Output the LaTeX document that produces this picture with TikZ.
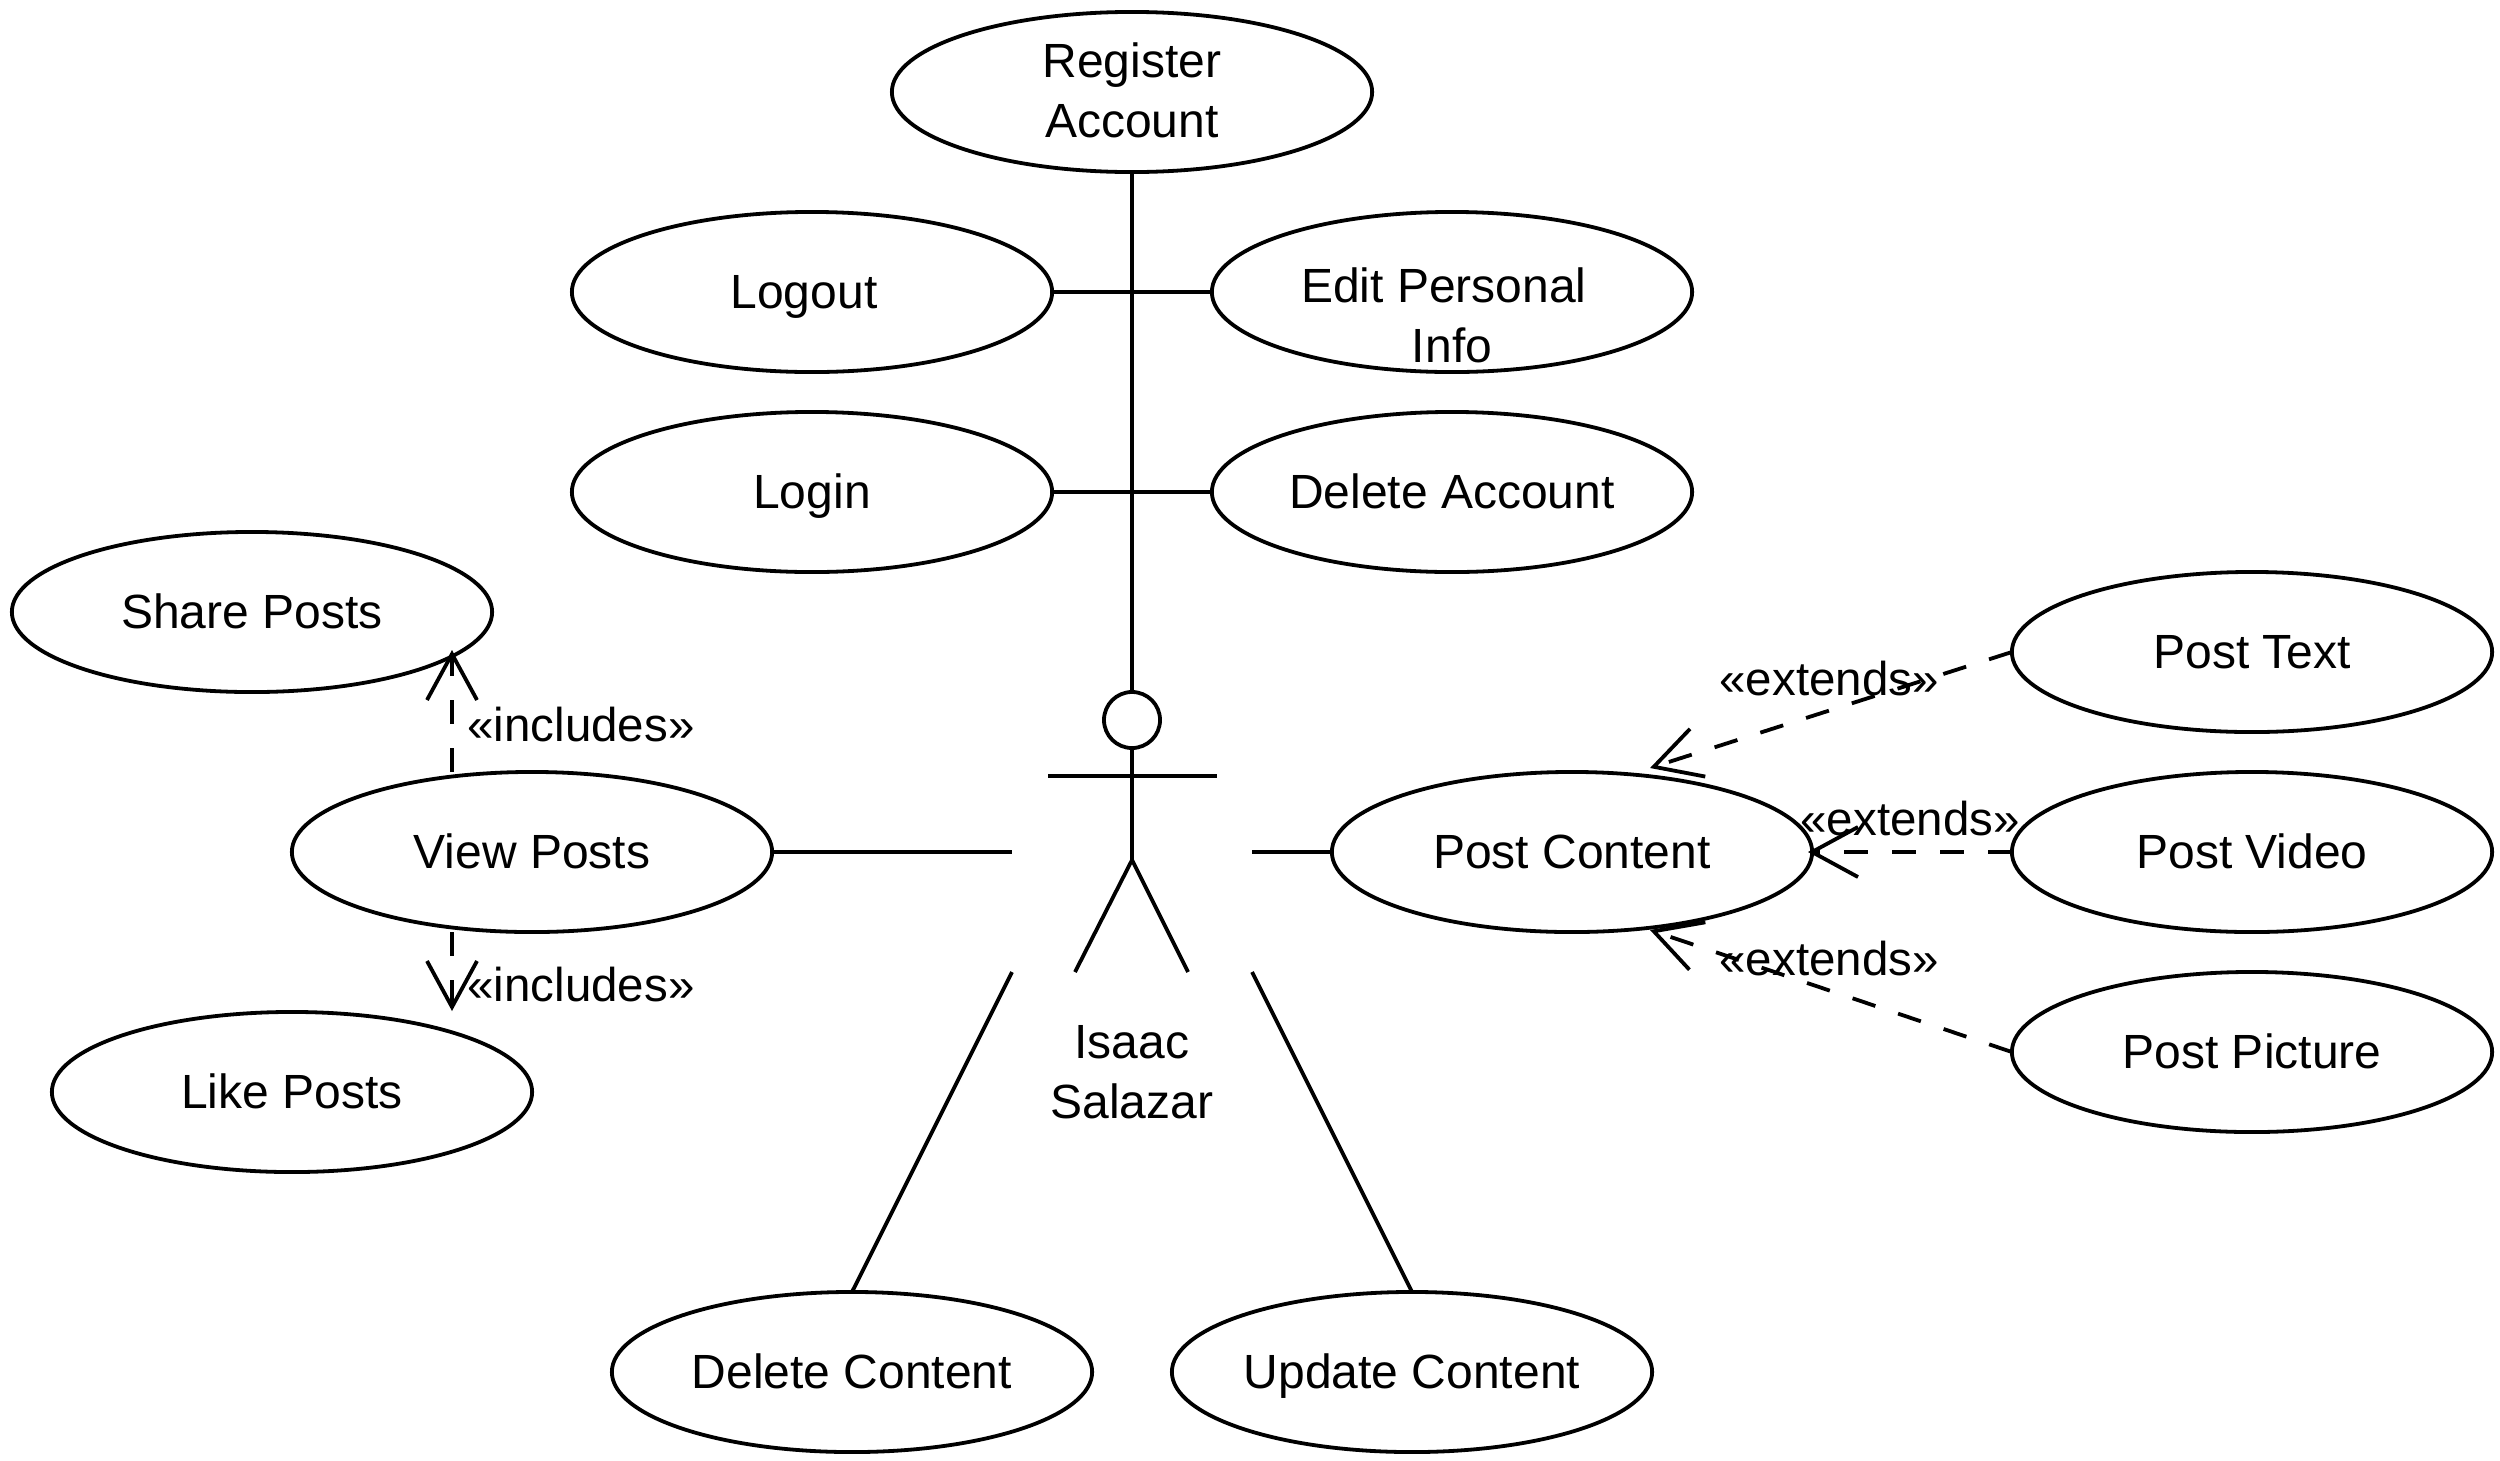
\documentclass[tikz,border=0pt]{standalone}
\usepackage{fontspec}
\setmainfont{Liberation Sans}
\usetikzlibrary{arrows.meta,shapes.geometric}
\tikzset{
  usecase/.style={draw, ellipse, minimum width=4.8cm, minimum height=1.6cm, inner sep=0pt, outer sep=0pt},
  usetext/.style={align=center, inner sep=0pt, text height=.42cm, text depth=.1cm},
  twolines/.style={align=center, inner sep=0pt},
  stereo/.style={anchor=base, inner sep=0pt, font=\fontsize{13.5}{17}\selectfont},
  dep/.style={->, dash pattern=on .24cm off .24cm}
}
\begin{document}
\begin{tikzpicture}[x=.01cm, y=-.01cm, line width=.038cm,
    >={Straight Barb[length=.46cm, width=.5cm]},
    font=\fontsize{13.65}{17}\selectfont]
    \useasboundingbox (0,0) rectangle (2500,1460);

    % Use cases
    \node[usecase] (register) at (1132,92) {};
    \node[twolines] (registerText) at (1132,90) {Register\\Account};
    \node[usecase, usetext] (logout) at (812,292) {Logout\hspace*{.16cm}};
    \node[usecase] (editInfo) at (1452,292) {};
    \node[twolines] (editText) at (1452,315) {Edit Personal\hspace*{.165cm}\\Info};
    \node[usecase, usetext] (login) at (812,492) {Login};
    \node[usecase, usetext] (deleteAccount) at (1452,492) {Delete Account};
    \node[usecase, usetext] (sharePosts) at (252,612) {Share Posts};
    \node[usecase, usetext] (viewPosts) at (532,852) {View Posts};
    \node[usecase, usetext] (likePosts) at (292,1092) {Like Posts};
    \node[usecase, usetext] (postContent) at (1572,852) {Post Content};
    \node[usecase, usetext] (postText) at (2252,652) {Post Text};
    \node[usecase, usetext] (postVideo) at (2252,852) {Post Video};
    \node[usecase, usetext] (postPicture) at (2252,1052) {Post Picture};
    \node[usecase, usetext] (deleteContent) at (852,1372) {Delete Content};
    \node[usecase, usetext] (updateContent) at (1412,1372) {Update Content};

    % Actor
    \node[draw, circle, minimum size=.56cm, inner sep=0pt, outer sep=0pt] (head) at (1132,720) {};
    \coordinate (hip) at (1132,860);
    \coordinate (armLeft) at (1048,776);
    \coordinate (armRight) at (1217,776);
    \coordinate (footLeft) at (1075,972);
    \coordinate (footRight) at (1188,972);
    \draw (head.south) -- (hip);
    \draw (armLeft) -- (armRight);
    \draw (footLeft) -- (hip) -- (footRight);
    \node[twolines] (actorName) at (1132,1072) {Isaac\\Salazar};

    % Free ends at the actor
    \coordinate (actorW) at (1012,852);
    \coordinate (actorE) at (1252,852);
    \coordinate (actorSW) at (1012,972);
    \coordinate (actorSE) at (1252,972);

    % Associations
    \draw (register.south) -- (head.north);
    \draw (logout.east) -- (editInfo.west);
    \draw (login.east) -- (deleteAccount.west);
    \draw (viewPosts.east) -- (actorW);
    \draw (actorE) -- (postContent.west);
    \draw (actorSW) -- (deleteContent.north);
    \draw (actorSE) -- (updateContent.north);

    % Includes
    \coordinate (viewTop) at (452,772);
    \coordinate (viewBottom) at (452,932);
    \coordinate (shareTip) at (452,650);
    \coordinate (likeTip) at (452,1011);
    \draw[dep] (viewTop) -- (shareTip);
    \draw[dep] (viewBottom) -- (likeTip);
    \node[stereo] (includesShare) at (581,741) {«includes»};
    \node[stereo] (includesLike) at (581,1001) {«includes»};

    % Extends
    \coordinate (contentTop) at (1650,768);
    \coordinate (contentEast) at (1808,852);
    \coordinate (contentBottom) at (1650,930);
    \draw[dep] (postText.west) -- (contentTop);
    \draw[dep] (postVideo.west) -- (contentEast);
    \draw[dep] (postPicture.west) -- (contentBottom);
    \node[stereo] (extendsText) at (1829,695) {«extends»};
    \node[stereo] (extendsVideo) at (1910,835) {«extends»};
    \node[stereo] (extendsPicture) at (1829,975) {«extends»};
\end{tikzpicture}
\end{document}
